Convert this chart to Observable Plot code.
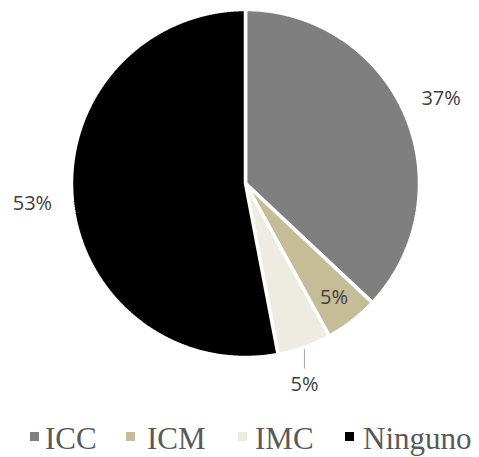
<!DOCTYPE html>
<html><head><meta charset="utf-8">
<script src="https://cdn.jsdelivr.net/npm/d3@7"></script>
<script src="https://cdn.jsdelivr.net/npm/@observablehq/plot@0.6"></script>
<style>
html,body{margin:0;padding:0;background:#fff;}
#wrap{position:relative;width:479px;height:457px;overflow:hidden;}
#legend{position:absolute;left:0;top:405px;width:479px;height:52px;
 font-family:"Liberation Serif","Times New Roman",serif;font-size:31px;line-height:31px;color:#595959;}
.sw{position:absolute;width:9px;height:9px;top:27px;}
.lt{position:absolute;top:18px;white-space:nowrap;}
</style></head><body>
<div id="wrap"><div id="chart"></div><div id="legend"></div></div>
<script>
const categories = ["ICC", "ICM", "IMC", "Ninguno"];
const values = [37, 5, 5, 53];
const labels = ["37%", "5%", "5%", "53%"];
const colors = ["#7f7f7f", "#c4bd97", "#eeece1", "#000000"];

const W = 479, H = 405, cx = 245, cy = 183, R = 174;
const slices = d3.pie().sort(null).value(d => d.value)(
  categories.map((c, i) => ({cat: c, value: values[i], label: labels[i]}))
);
const pt = (a, r) => [cx + r * Math.sin(a), cy - r * Math.cos(a)];

const features = slices.map(p => {
  const n = Math.max(4, Math.ceil((p.endAngle - p.startAngle) / 0.005));
  const ring = [[cx, cy]];
  for (let k = 0; k <= n; k++) ring.push(pt(p.startAngle + (p.endAngle - p.startAngle) * k / n, R));
  ring.push([cx, cy]);
  return {type: "Feature", properties: p.data, geometry: {type: "Polygon", coordinates: [ring]}};
});

// label placement (Excel-style best fit)
const placement = {ICC: ["out", 1.225], ICM: ["in", 0.83], IMC: ["leader", 1], Ninguno: ["out", 1.23]};
const textData = [], leaderData = [];
slices.forEach(p => {
  const mid = (p.startAngle + p.endAngle) / 2;
  const [mode, f] = placement[p.data.cat];
  if (mode === "leader") {
    const [x0, y0] = pt(mid, R);
    leaderData.push({x: x0, y: y0 + 2, g: p.data.cat}, {x: x0, y: y0 + 21, g: p.data.cat});
    textData.push({x: x0, y: y0 + 37, text: p.data.label});
  } else {
    const [x, y] = pt(mid, R * f);
    textData.push({x, y, text: p.data.label});
  }
});

const chart = Plot.plot({
  width: W, height: H, margin: 0,
  projection: {type: "identity"},
  color: {domain: categories, range: colors},
  marks: [
    Plot.geo(features, {fill: d => d.properties.cat, stroke: "#ffffff", strokeWidth: 3.5, strokeLinejoin: "miter"}),
    Plot.line(leaderData, {x: "x", y: "y", z: "g", stroke: "#a6a6a6", strokeWidth: 1}),
    Plot.text(textData, {x: "x", y: "y", text: "text", fontSize: 20, fontFamily: "Open Sans", fill: "#404040", textAnchor: "middle", lineAnchor: "middle"})
  ]
});
document.getElementById("chart").appendChild(chart);

// legend layout (Excel legend entry positions)
const swatchX = [30, 126, 238, 345];
const textX = [45, 147, 255, 363];
const color = chart.scale("color");
const legend = document.getElementById("legend");
categories.forEach((c, i) => {
  const sw = document.createElement("span"); sw.className = "sw";
  sw.style.left = swatchX[i] + "px"; sw.style.background = color.apply(c);
  const t = document.createElement("span"); t.className = "lt";
  t.style.left = textX[i] + "px"; t.textContent = c;
  legend.appendChild(sw); legend.appendChild(t);
});
</script>
</body></html>
